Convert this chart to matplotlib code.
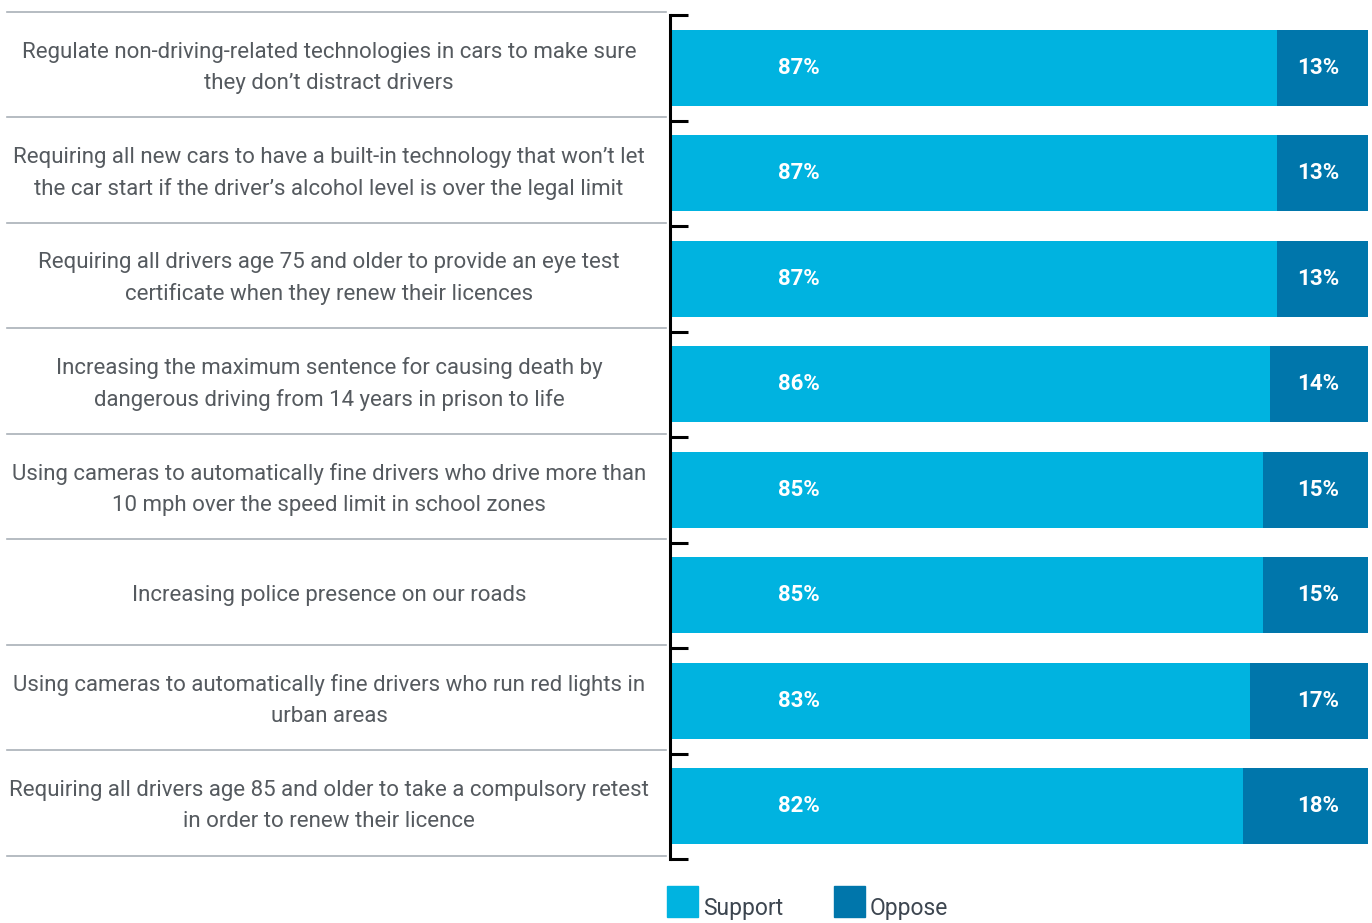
import matplotlib
matplotlib.use('Agg')
import matplotlib.pyplot as plt
import matplotlib.transforms as mtransforms
from matplotlib.patches import Rectangle

plt.rcParams['font.family'] = ['Roboto', 'DejaVu Sans']

statements = [
    "Regulate non-driving-related technologies in cars to make sure\nthey don\u2019t distract drivers",
    "Requiring all new cars to have a built-in technology that won\u2019t let\nthe car start if the driver\u2019s alcohol level is over the legal limit",
    "Requiring all drivers age 75 and older to provide an eye test\ncertificate when they renew their licences",
    "Increasing the maximum sentence for causing death by\ndangerous driving from 14 years in prison to life",
    "Using cameras to automatically fine drivers who drive more than\n10 mph over the speed limit in school zones",
    "Increasing police presence on our roads",
    "Using cameras to automatically fine drivers who run red lights in\nurban areas",
    "Requiring all drivers age 85 and older to take a compulsory retest\nin order to renew their licence",
]
support = [87, 87, 87, 86, 85, 85, 83, 82]
oppose = [13, 13, 13, 14, 15, 15, 17, 18]

SUPPORT_COL = '#00b3e0'
OPPOSE_COL = '#0076ab'
TEXT_COL = '#555a5f'

W, H = 1372, 923
fig = plt.figure(figsize=(W / 100, H / 100), dpi=100)
ax = fig.add_axes([671 / W, (H - 859) / H, (1368 - 671) / W, (859 - 15) / H])

n = len(statements)
pos = list(range(n))
ax.barh(pos, support, height=0.72, color=SUPPORT_COL, left=0)
ax.barh(pos, oppose, height=0.72, color=OPPOSE_COL, left=support)

for i in pos:
    ax.text(18.3, i, f'{support[i]}%', color='white', fontsize=16,
            fontweight='bold', ha='center', va='center')
    ax.text(92.8, i, f'{oppose[i]}%', color='white', fontsize=16,
            fontweight='bold', ha='center', va='center')

ax.set_xlim(0, 100)
ax.set_ylim(n - 0.5, -0.5)
ax.set_yticks([b - 0.5 for b in range(n + 1)])
ax.set_yticklabels([])
ax.set_xticks([])
ax.tick_params(axis='y', direction='in', length=13, width=2.2, color='black')
for side in ('top', 'right', 'bottom'):
    ax.spines[side].set_visible(False)
ax.spines['left'].set_linewidth(2.2)
ax.spines['left'].set_position(('outward', 1))

# statement labels and separator lines to the left of the bars
trans = mtransforms.blended_transform_factory(fig.transFigure, ax.transData)
for b in range(n + 1):
    ax.plot([7 / W, 666 / W], [b - 0.53, b - 0.53], transform=trans,
            color='#a9b0b8', lw=1.2, clip_on=False)
for i, s in enumerate(statements):
    ax.text(329 / W, i, s, transform=trans, ha='center', va='center',
            fontsize=16, color=TEXT_COL, linespacing=1.6)

# legend
for x0, col, lab in [(667, SUPPORT_COL, 'Support'), (834, OPPOSE_COL, 'Oppose')]:
    fig.patches.append(Rectangle((x0 / W, (H - 917) / H), 31 / W, 31 / H,
                                 transform=fig.transFigure, color=col))
    fig.text((x0 + 36) / W, (H - 908) / H, lab, fontsize=16.5,
             color='#3d4650', ha='left', va='center')

fig.savefig('out.png', dpi=100)
